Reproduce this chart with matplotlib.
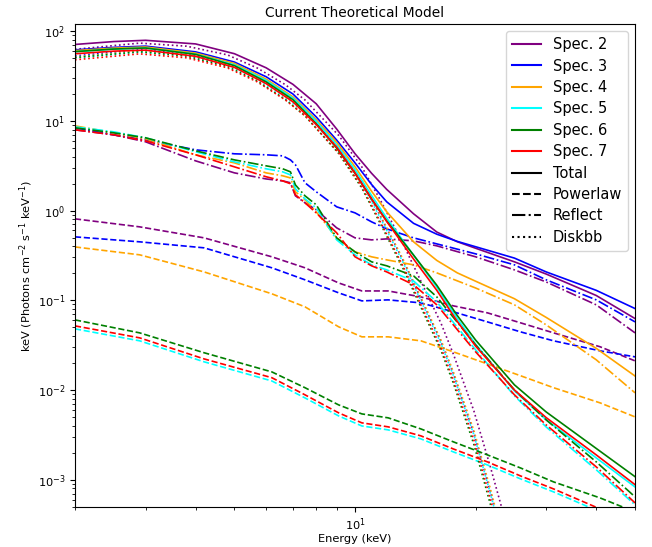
import matplotlib
matplotlib.use("Agg")
import matplotlib.pyplot as plt
from matplotlib.lines import Line2D

# spectra: names and colours
spec_names = ["Spec. 2", "Spec. 3", "Spec. 4", "Spec. 5", "Spec. 6", "Spec. 7"]
spec_colors = ["purple", "blue", "orange", "cyan", "green", "red"]

# Total model (keV)
total_e = [2.0, 2.5, 3.0, 4.0, 5.0, 6.0, 7.0, 8.0, 9.0, 10.0, 11.0, 12.0,
           14.0, 16.0, 18.0, 20.0, 25.0, 30.0, 40.0, 50.0]
total_2 = [71, 76.5, 79, 72, 56, 39, 25.5, 15.5, 8.1, 4.3, 2.6, 1.72,
           0.92, 0.576, 0.449, 0.38, 0.268, 0.196, 0.113, 0.0625]
total_3 = [61.8, 65.9, 68.0, 58.7, 45.2, 31.0, 19.9, 11.06, 6.1, 3.4, 1.95, 1.25,
           0.72, 0.545, 0.453, 0.395, 0.295, 0.207, 0.129, 0.0808]
total_4 = [60.6, 64.6, 66.5, 56.9, 43.6, 29.2, 18.5, 10.3, 5.76, 3.08, 1.64, 0.969,
           0.448, 0.278, 0.202, 0.163, 0.104, 0.0644, 0.0291, 0.0143]
total_5 = [58.9, 63.1, 64.8, 55.4, 42.1, 28.2, 17.9, 9.90, 5.39, 2.86, 1.47, 0.822,
           0.318, 0.140, 0.0623, 0.0324, 0.00976, 0.00466, 0.00175, 0.000829]
total_6 = [59.1, 63.1, 64.8, 55.1, 41.2, 27.2, 17.2, 9.29, 4.97, 2.60, 1.34, 0.764,
           0.319, 0.147, 0.0675, 0.0360, 0.0114, 0.00569, 0.00223, 0.00108]
total_7 = [55.9, 59.8, 61.4, 52.4, 39.4, 26.0, 16.3, 9.10, 5.09, 2.62, 1.35, 0.754,
           0.288, 0.129, 0.058, 0.0308, 0.0100, 0.00492, 0.00189, 0.00088]

# Powerlaw component
pl_e = [2.0, 2.9, 4.2, 6.2, 7.5, 9.1, 10.4, 12.1, 14.6, 17.6, 21.4, 25.9, 31.3, 40.9, 50.0]
pl_2 = [0.808, 0.658, 0.496, 0.305, 0.230, 0.156, 0.127, 0.127, 0.109, 0.0866,
        0.0724, 0.0560, 0.0433, 0.0303, 0.0211]
pl_3 = [0.509, 0.448, 0.384, 0.230, 0.169, 0.121, 0.0984, 0.101, 0.0935, 0.0743,
        0.0574, 0.0444, 0.0353, 0.0273, 0.0234]
pl_4 = [0.393, 0.321, 0.207, 0.118, 0.0845, 0.0506, 0.0391, 0.0391, 0.0353, 0.0266,
        0.0195, 0.0144, 0.0106, 0.00718, 0.00501]
pl_5 = [0.0480, 0.0353, 0.0206, 0.0126, 0.00816, 0.00514, 0.00397, 0.00359, 0.00285,
        0.00204, 0.00146, 0.00102, 0.000731, 0.000437, 0.000305]
pl_6 = [0.0604, 0.0433, 0.0260, 0.0159, 0.0106, 0.00682, 0.00541, 0.00489, 0.00368,
        0.00264, 0.00189, 0.00135, 0.000945, 0.000626, 0.000437]
pl_7 = [0.0518, 0.0381, 0.0222, 0.0137, 0.00883, 0.00556, 0.00430, 0.00388, 0.00308,
        0.00220, 0.00158, 0.00110, 0.000789, 0.000472, 0.00033]

# Reflection component (Fe edge near 7 keV)
refl_e = [2.0, 2.5, 3.0, 4.0, 5.0, 6.0, 6.6, 6.9, 7.1, 7.5, 8.0, 9.0, 10.0, 11.0,
          12.0, 14.0, 16.0, 20.0, 25.0, 30.0, 40.0, 50.0]
refl_2 = [7.94, 6.98, 5.84, 3.58, 2.63, 2.25, 2.14, 2.04, 1.46, 1.22, 1.02, 0.641,
          0.496, 0.471, 0.483, 0.459, 0.404, 0.305, 0.218, 0.160, 0.0889, 0.0433]
refl_3 = [8.36, 6.98, 6.14, 4.75, 4.29, 4.18, 4.07, 3.67, 3.24, 2.04, 1.62, 1.10,
          0.942, 0.748, 0.625, 0.496, 0.425, 0.329, 0.248, 0.169, 0.101, 0.0574]
refl_4 = [8.79, 7.35, 6.30, 4.18, 3.40, 2.63, 2.44, 2.31, 1.62, 1.32, 0.967, 0.496,
          0.346, 0.305, 0.282, 0.248, 0.202, 0.137, 0.0889, 0.0532, 0.0217, 0.00929]
refl_5 = [8.57, 7.54, 6.47, 4.52, 3.49, 2.92, 2.70, 2.50, 1.75, 1.35, 1.07, 0.471,
          0.321, 0.248, 0.218, 0.164, 0.0959, 0.0280, 0.00860, 0.00387, 0.00129, 0.000524]
refl_6 = [8.36, 7.35, 6.47, 4.63, 3.67, 3.15, 2.92, 2.70, 1.93, 1.46, 1.16, 0.496,
          0.346, 0.268, 0.242, 0.187, 0.109, 0.0318, 0.0100, 0.00464, 0.00158, 0.000643]
refl_7 = [7.94, 6.98, 5.98, 4.18, 3.07, 2.38, 2.14, 1.99, 1.50, 1.22, 0.942, 0.564,
          0.305, 0.242, 0.207, 0.149, 0.0889, 0.0266, 0.00883, 0.00408, 0.00139, 0.000551]

# Disk blackbody component
disk_e = [2.0, 2.9, 3.8, 4.8, 5.7, 6.7, 7.5, 9.1, 10.4, 11.6, 13.2, 14.8, 16.4,
          17.6, 19.8, 21.8, 24.0, 26.0]
disk_2 = [62.7, 73.5, 67.9, 54.4, 38.8, 25.3, 17.1, 6.89, 3.06, 1.28, 0.420, 0.144,
          0.0551, 0.0251, 0.00585, 0.00136, 0.000290, 7.4e-5]
disk_3 = [52.9, 61.8, 56.0, 43.6, 30.6, 19.3, 12.9, 5.03, 2.13, 0.847, 0.276, 0.0917,
          0.0346, 0.0153, 0.00333, 0.000725, 0.000137, 3.7e-5]
disk_4 = [51.4, 60.3, 54.8, 42.9, 30.3, 19.2, 12.9, 5.07, 2.16, 0.866, 0.283, 0.0945,
          0.0358, 0.0159, 0.00353, 0.000777, 0.000147, 4.0e-5]
disk_5 = [50.3, 58.8, 53.3, 41.4, 29.1, 18.3, 12.3, 4.78, 2.02, 0.805, 0.262, 0.0871,
          0.0329, 0.0145, 0.00317, 0.000689, 0.000130, 3.5e-5]
disk_6 = [50.7, 58.8, 52.7, 40.3, 27.8, 17.3, 11.4, 4.34, 1.78, 0.698, 0.223, 0.0735,
          0.0274, 0.0119, 0.00247, 0.000520, 9.7e-5, 2.6e-5]
disk_7 = [47.9, 55.8, 50.4, 39.0, 27.2, 17.1, 11.4, 4.40, 1.84, 0.729, 0.236, 0.0782,
          0.0294, 0.0129, 0.00277, 0.000596, 0.000112, 3.0e-5]

totals = [total_2, total_3, total_4, total_5, total_6, total_7]
pls = [pl_2, pl_3, pl_4, pl_5, pl_6, pl_7]
refls = [refl_2, refl_3, refl_4, refl_5, refl_6, refl_7]
disks = [disk_2, disk_3, disk_4, disk_5, disk_6, disk_7]

fig = plt.figure(figsize=(6.52, 5.47), dpi=100)
ax = fig.add_axes([0.115, 0.0737, 0.859, 0.8824])

lw = 1.2
for i in range(len(spec_names)):
    c = spec_colors[i]
    ax.plot(total_e, totals[i], color=c, lw=lw, ls='-')
    ax.plot(pl_e, pls[i], color=c, lw=lw, ls='--')
    ax.plot(refl_e, refls[i], color=c, lw=lw, ls='-.')
    ax.plot(disk_e, disks[i], color=c, lw=lw, ls=':')

ax.set_xscale('log')
ax.set_yscale('log')
ax.set_xlim(2, 50)
ax.set_ylim(5e-4, 120)
ax.tick_params(labelsize=8.2)
ax.set_xlabel("Energy (keV)", fontsize=8.2, labelpad=0.5)
ax.set_ylabel("keV (Photons cm$^{-2}$ s$^{-1}$ keV$^{-1}$)", fontsize=8.2, labelpad=2)
ax.set_title("Current Theoretical Model", fontsize=9.9, pad=5)

handles = [Line2D([], [], color=c, lw=1.5) for c in spec_colors]
handles += [Line2D([], [], color='black', lw=1.5, ls=s) for s in ['-', '--', '-.', ':']]
labels = spec_names + ["Total", "Powerlaw", "Reflect", "Diskbb"]
ax.legend(handles, labels, loc='upper right', fontsize=10.5, labelspacing=0.44)

fig.savefig("out.png", dpi=100)
